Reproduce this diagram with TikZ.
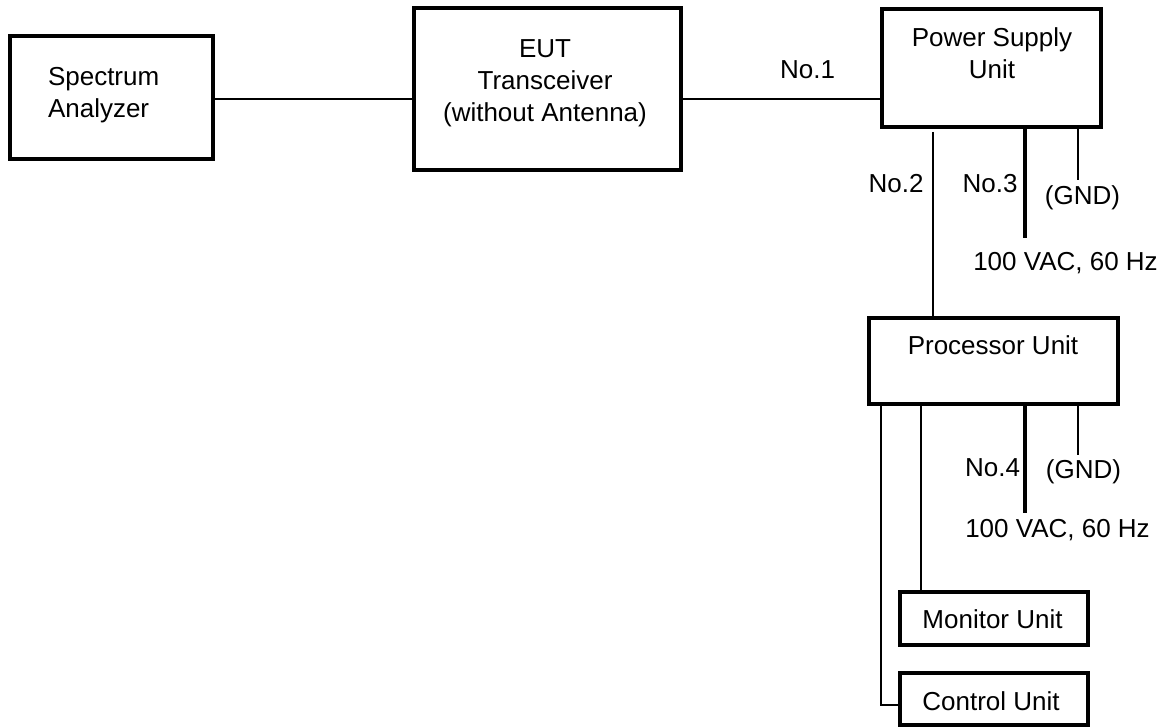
\documentclass[tikz,border=0pt]{standalone}
\usepackage{fontspec}
\setmainfont{Liberation Sans}
\begin{document}
\begin{tikzpicture}[x=1pt,y=-1pt,
  box/.style={draw=black, line width=3.2pt, inner sep=0pt, outer sep=0pt, rectangle},
  txt/.style={inner sep=0pt, outer sep=0pt, font=\fontsize{26}{32}\selectfont, align=center},
  wire/.style={line width=2.8pt},
  mains/.style={line width=4.2pt}]
\useasboundingbox (0,0) rectangle (1170,727);
\fill[white] (0,0) rectangle (1170,727);

% boxes
\node[box, minimum width=203pt, minimum height=123pt] (sa) at (111.5,97.5) {};
\node[box, minimum width=267pt, minimum height=162pt] (eut) at (547.5,89) {};
\node[box, minimum width=219pt, minimum height=118pt] (psu) at (991.5,68) {};
\node[box, minimum width=249pt, minimum height=86pt] (proc) at (993.5,361) {};
\node[box, minimum width=188pt, minimum height=53pt] (mon) at (994,618.5) {};
\node[box, minimum width=188pt, minimum height=52pt] (ctrl) at (994,699) {};

% box texts
\node[txt, anchor=west, align=left] (saT) at (48,95) {Spectrum\\Analyzer};
\node[txt] (eutT) at (545,83.5) {EUT\\Transceiver\\(without Antenna)};
\node[txt] (psuT) at (992,53) {Power Supply\\Unit};
\node[txt, anchor=base] (procT) at (993,355) {Processor Unit};
\node[txt, anchor=base] (monT) at (992.5,628) {Monitor Unit};
\node[txt, anchor=base] (ctrlT) at (991,710) {Control Unit};

% wires
\coordinate (w1) at (0,99);
\draw[wire] (sa.east |- w1) -- (eut.west |- w1);
\draw[wire] (eut.east |- w1) -- (psu.west |- w1);
\coordinate (n2) at (933,132);
\draw[wire] (n2) -- (n2 |- proc.north);
\coordinate (ac1) at (1025,238);
\draw[mains] (ac1 |- psu.south) -- (ac1);
\coordinate (g1) at (1078,180);
\draw[wire] (g1 |- psu.south) -- (g1);
\coordinate (cb) at (881,705);
\draw[wire] (cb |- proc.south) -- (cb) -- (cb -| ctrl.west);
\coordinate (mb) at (921,0);
\draw[wire] (mb |- proc.south) -- (mb |- mon.north);
\coordinate (ac2) at (1025,513);
\draw[mains] (ac2 |- proc.south) -- (ac2);
\coordinate (g2) at (1078,455);
\draw[wire] (g2 |- proc.south) -- (g2);

% labels
\node[txt, anchor=base] (l1) at (807.5,79) {No.1};
\node[txt, anchor=base] (l2) at (896,193) {No.2};
\node[txt, anchor=base] (l3) at (990,193) {No.3};
\node[txt, anchor=base] (gnd1) at (1082.5,205) {(GND)};
\node[txt, anchor=base] (vac1) at (1065.5,271) {100 VAC, 60 Hz};
\node[txt, anchor=base] (l4) at (992.5,476) {No.4};
\node[txt, anchor=base] (gnd2) at (1083.5,478) {(GND)};
\node[txt, anchor=base] (vac2) at (1057.5,537) {100 VAC, 60 Hz};
\end{tikzpicture}
\end{document}
